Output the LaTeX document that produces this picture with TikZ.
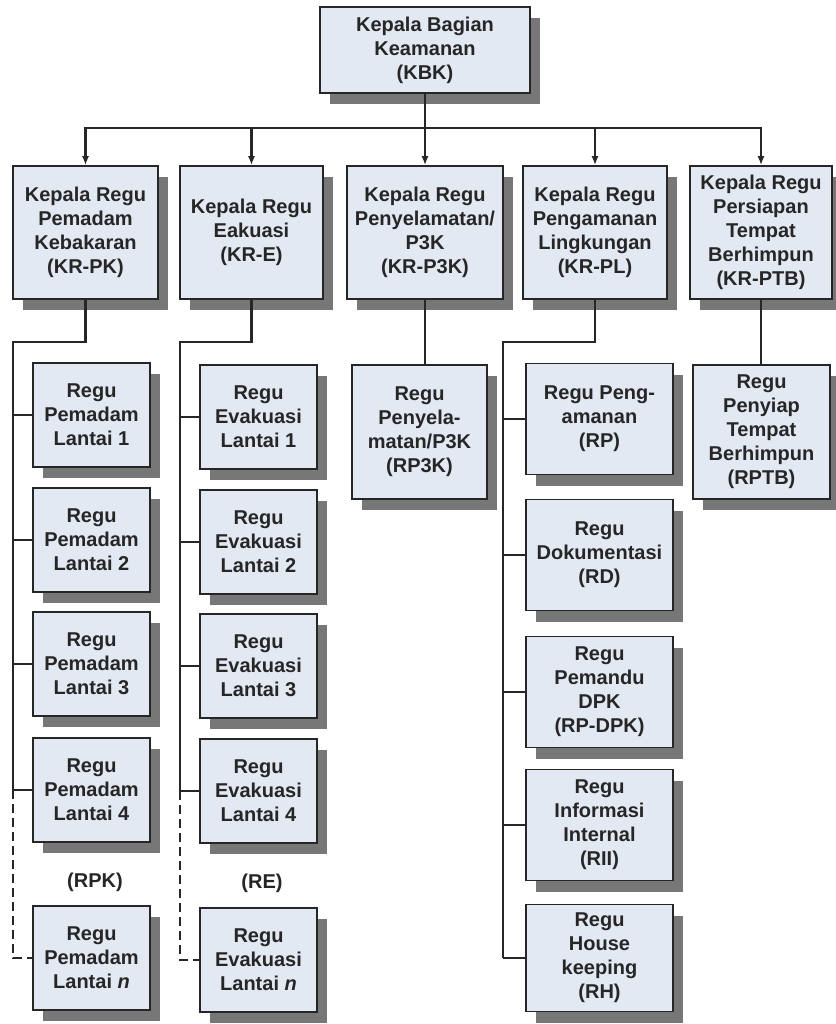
\documentclass[tikz,border=0pt]{standalone}
\usepackage{fontspec}
\setmainfont{Liberation Sans}
\usetikzlibrary{arrows.meta,positioning,shadows}
\definecolor{boxfill}{HTML}{E3E9F3}
\definecolor{shade}{HTML}{777777}
\definecolor{ink}{HTML}{262626}

\begin{document}
\begin{tikzpicture}[
  x=1pt, y=-1pt,
  every node/.style={font=\bfseries\fontsize{20}{24}\selectfont, text=ink},
  box/.style={rectangle, draw=ink, line width=1.6pt, fill=boxfill, align=center, inner sep=1pt,
    drop shadow={shadow xshift=10pt, shadow yshift=-11pt, fill=shade, opacity=1}},
  head/.style={box, minimum height=133pt},
  sub/.style={box, minimum width=117pt, minimum height=104pt},
  unit/.style={box, minimum width=147pt, minimum height=111pt},
  link/.style={draw=ink, line width=2.4pt},
  arr/.style={link, -{Latex[length=9pt,width=7pt]}}
]
  \useasboundingbox (0,0) rectangle (835,1024);

  % top and second row
  \node[box, minimum width=210pt, minimum height=86pt] (kbk) at (425,50) {Kepala Bagian\\Keamanan\\(KBK)};
  \node[head, minimum width=145pt] (krpk) at (85.5,232.5) {Kepala Regu\\Pemadam\\Kebakaran\\(KR-PK)};
  \node[head, minimum width=143pt] (kre) at (251.5,232.5) {Kepala Regu\\Eakuasi\\(KR-E)};
  \node[head, minimum width=156pt] (krp3k) at (425,232.5) {Kepala Regu\\Penyelamatan/\\P3K\\(KR-P3K)};
  \node[head, minimum width=144pt] (krpl) at (595,232.5) {Kepala Regu\\Pengamanan\\Lingkungan\\(KR-PL)};
  \node[head, minimum width=142pt] (krptb) at (761,232.5) {Kepala Regu\\Persiapan\\Tempat\\Berhimpun\\(KR-PTB)};

  % pemadam
  \node[sub] (pk1) at (91.5,415) {Regu\\Pemadam\\Lantai 1};
  \node[sub] (pk2) at (91.5,540) {Regu\\Pemadam\\Lantai 2};
  \node[sub] (pk3) at (91.5,664) {Regu\\Pemadam\\Lantai 3};
  \node[sub] (pk4) at (91.5,790) {Regu\\Pemadam\\Lantai 4};
  \node (rpk) at (95,882) {(RPK)};
  \node[sub] (pkn) at (91.5,958) {Regu\\Pemadam\\Lantai \textit{n}};

  % evakuasi
  \node[sub] (ev1) at (258.5,417) {Regu\\Evakuasi\\Lantai 1};
  \node[sub] (ev2) at (258.5,542) {Regu\\Evakuasi\\Lantai 2};
  \node[sub] (ev3) at (258.5,666) {Regu\\Evakuasi\\Lantai 3};
  \node[sub] (ev4) at (258.5,791) {Regu\\Evakuasi\\Lantai 4};
  \node (re) at (262,883) {(RE)};
  \node[sub] (evn) at (258.5,960) {Regu\\Evakuasi\\Lantai \textit{n}};

  \node[box, minimum width=135pt, minimum height=134pt] (rp3k) at (419.5,432) {Regu\\Penyela-\\matan/P3K\\(RP3K)};

  % pengamanan lingkungan
  \node[unit] (rp) at (599.5,419) {Regu Peng-\\amanan\\(RP)};
  \node[unit] (rd) at (599.5,555) {Regu\\Dokumentasi\\(RD)};
  \node[unit] (rpdpk) at (599.5,692) {Regu\\Pemandu\\DPK\\(RP-DPK)};
  \node[unit] (rii) at (599.5,825) {Regu\\Informasi\\Internal\\(RII)};
  \node[unit, minimum height=107pt] (rh) at (599.5,958) {Regu\\House\\keeping\\(RH)};

  \node[box, minimum width=137pt, minimum height=134pt] (rptb) at (761.5,432) {Regu\\Penyiap\\Tempat\\Berhimpun\\(RPTB)};

  % connectors
  \coordinate (bus) at (425,128);
  \draw[link] (kbk) -- (bus);
  \foreach \n in {krpk,kre,krp3k,krpl,krptb}
    \draw[arr] (bus) -| (\n);

  \coordinate (pkrail) at (13,342);
  \draw[link] (krpk) |- (pkrail) -- (pkrail |- pk4);
  \foreach \i in {1,...,4}
    \draw[link] (pkrail |- pk\i) -- (pk\i);
  \draw[link, line width=1.8pt, dash pattern=on 9pt off 5pt] (pkrail |- pk4) -- (pkrail |- pkn) -- (pkn);

  \coordinate (evrail) at (180,342);
  \draw[link] (kre) |- (evrail) -- (evrail |- ev4);
  \foreach \i in {1,...,4}
    \draw[link] (evrail |- ev\i) -- (ev\i);
  \draw[link, line width=1.8pt, dash pattern=on 9pt off 5pt] (evrail |- ev4) -- (evrail |- evn) -- (evn);

  \draw[link] (krp3k) -- (krp3k |- rp3k.north);

  \coordinate (plrail) at (503,342);
  \draw[link] (krpl) |- (plrail) -- (plrail |- rh);
  \foreach \n in {rp,rd,rpdpk,rii,rh}
    \draw[link] (plrail |- \n) -- (\n);

  \draw[link] (krptb) -- (krptb |- rptb.north);
\end{tikzpicture}
\end{document}
